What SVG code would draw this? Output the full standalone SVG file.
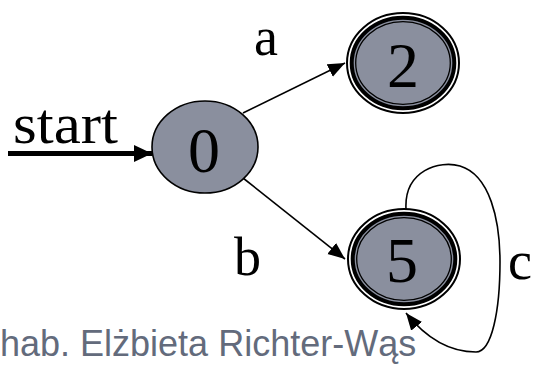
<svg xmlns="http://www.w3.org/2000/svg" width="547" height="371" viewBox="0 0 547 371">
<style>
.lbl{font-family:"Liberation Serif","Times New Roman",serif;fill:#000}
.dig{font-family:"Liberation Serif","Times New Roman",serif;font-size:64px;fill:#000;text-anchor:middle}
.fill{fill:#8a8f9e}
.edge{fill:none;stroke:#000;stroke-width:1.6}
.foot{font-family:"Liberation Sans",Arial,sans-serif;font-size:36px;fill:#636b7c}
</style>
<defs>
<marker id="ah" markerUnits="userSpaceOnUse" markerWidth="19" markerHeight="15" refX="17" refY="7" orient="auto">
<path d="M0,0 L17,7 L0,14 z" fill="#000"/>
</marker>
<marker id="ahBig" markerUnits="userSpaceOnUse" markerWidth="20" markerHeight="18" refX="18" refY="8.5" orient="auto">
<path d="M0,0 L18,8.5 L0,17 z" fill="#000"/>
</marker>
</defs>
<rect width="547" height="371" fill="#fff"/>
<g id="connectors">
<line x1="8" y1="153.5" x2="152" y2="153.5" stroke="#000" stroke-width="5" marker-end="url(#ahBig)"/>
<line class="edge" x1="243" y1="113" x2="345" y2="63" marker-end="url(#ah)"/>
<line class="edge" x1="243" y1="178" x2="345" y2="259" marker-end="url(#ah)"/>
<path class="edge" d="M406,209 C404,170 440,160 460,166 C490,175 500,220 500,262 C500,310 492,352 476,352 C450,352 426,338 406,313" marker-end="url(#ah)"/>
</g>
<g id="node0">
<ellipse class="fill" cx="205" cy="147" rx="53" ry="46" stroke="#000" stroke-width="1.6"/>
<text class="dig" x="204" y="172">0</text>
</g>
<g id="node2">
<ellipse cx="403" cy="63" rx="56" ry="50" fill="#fff" stroke="#000" stroke-width="2"/>
<ellipse class="fill" cx="403" cy="63" rx="51.3" ry="45.3" stroke="#000" stroke-width="4"/>
<ellipse class="fill" cx="403" cy="63" rx="47.3" ry="41.3" stroke="#000" stroke-width="1.3"/>
<text class="dig" x="403" y="87">2</text>
</g>
<g id="node5">
<ellipse cx="404" cy="259" rx="56" ry="50" fill="#fff" stroke="#000" stroke-width="2"/>
<ellipse class="fill" cx="404" cy="259" rx="51.3" ry="45.3" stroke="#000" stroke-width="4"/>
<ellipse class="fill" cx="404" cy="259" rx="47.3" ry="41.3" stroke="#000" stroke-width="1.3"/>
<text class="dig" x="402" y="282">5</text>
</g>
<g id="labels">
<text class="lbl" x="13" y="143" font-size="56" textLength="105" lengthAdjust="spacingAndGlyphs">start</text>
<text class="lbl" x="254" y="55" font-size="54">a</text>
<text class="lbl" x="234" y="275" font-size="54">b</text>
<text class="lbl" x="508" y="279" font-size="54">c</text>
</g>
<text class="foot" x="0" y="356">hab. Elżbieta Richter-Wąs</text>
</svg>
